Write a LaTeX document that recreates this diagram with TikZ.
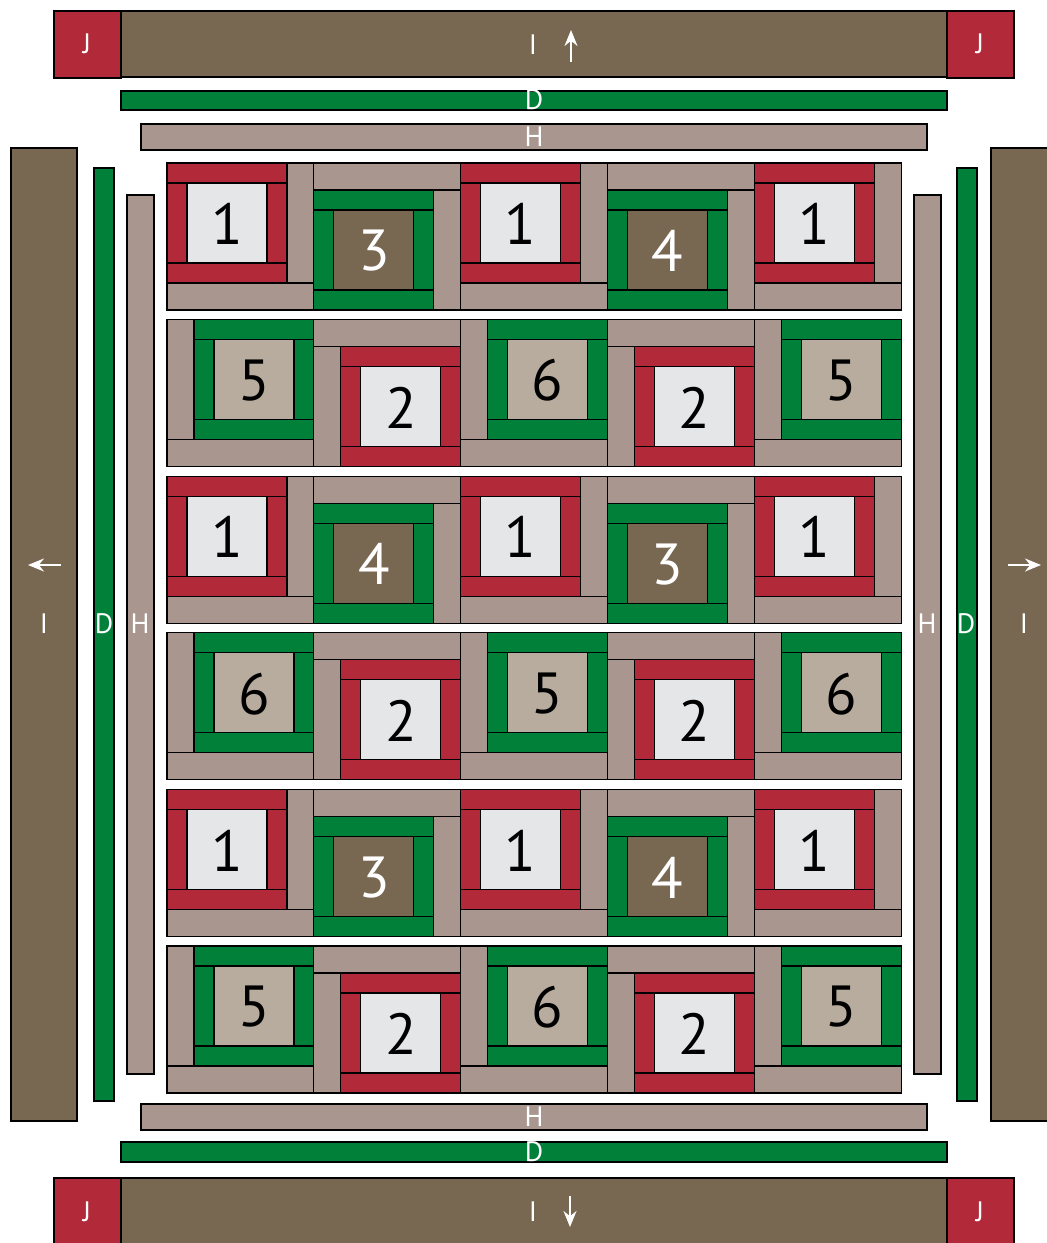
\documentclass[tikz,border=0pt]{standalone}
\usepackage{fontspec}
\setmainfont{PT Sans}
\usetikzlibrary{arrows.meta}
\definecolor{cRed}{RGB}{178,41,57}
\definecolor{cBrown}{RGB}{120,104,82}
\definecolor{cGreen}{RGB}{0,128,57}
\definecolor{cMauve}{RGB}{168,150,143}
\definecolor{cLight}{RGB}{229,230,232}
\definecolor{cTan}{RGB}{183,172,158}
\tikzset{
	patch/.style    ={draw=black, line width=0.7pt},
	strip/.style    ={patch, fill=cMauve},
	num/.style      ={font=\fontsize{33}{33}\selectfont, inner sep=0pt},
	lbl/.style      ={font=\fontsize{16}{16}\selectfont, text=white, inner sep=0pt},
	dirarrow/.style ={-{Stealth[length=3.2mm, width=2.6mm]}, white, line width=1.2pt},
}
% log cabin block: col, row, frame, centre, number colour, number, x offset, y offset
\newcommand{\cabin}[8]{%
	\begin{scope}[shift={({167+146.8*#1},{163+156.6*#2})}]
		\pgfmathsetmacro\cabinvx{#7>0 ? 0 : 120}
		\pgfmathsetmacro\cabinhy{#8>0 ? 0 : 120}
		\filldraw[strip] (\cabinvx,#8) rectangle ++(27,120);
		\filldraw[strip] (0,\cabinhy) rectangle ++(147,27);
		\begin{scope}[shift={(#7,#8)}]
			\filldraw[patch, fill=#3] (0,0) rectangle (120,20);
			\filldraw[patch, fill=#3] (0,100) rectangle (120,120);
			\filldraw[patch, fill=#3] (0,20) rectangle (20,100);
			\filldraw[patch, fill=#3] (100,20) rectangle (120,100);
			\filldraw[patch, fill=#4] (20,20) rectangle (100,100);
			\node[num, text=#5] (b#1#2) at (60,61) {#6};
		\end{scope}
	\end{scope}}

\begin{document}
\begin{tikzpicture}[x=0.02cm, y=-0.02cm]
	\clip (0,0) rectangle (1047,1243);
	% borders
	\filldraw[patch, fill=cBrown] (121,11) rectangle (947,77);
	\filldraw[patch, fill=cBrown] (121,1178) rectangle (947,1250);
	\filldraw[patch, fill=cBrown] (11,148) rectangle (77,1121);
	\filldraw[patch, fill=cBrown] (991,148) rectangle (1060,1121);
	\foreach \x/\y in {54/11, 947/11, 54/1178, 947/1178}
		\filldraw[patch, fill=cRed] (\x,\y) rectangle ++(67,67);
	\filldraw[patch, fill=cGreen] (121,91) rectangle (947,110);
	\filldraw[patch, fill=cGreen] (121,1142) rectangle (947,1162);
	\filldraw[patch, fill=cGreen] (94,168) rectangle (114,1101);
	\filldraw[patch, fill=cGreen] (957,168) rectangle (977,1101);
	\filldraw[strip] (141,124) rectangle (927,150);
	\filldraw[strip] (141,1104) rectangle (927,1130);
	\filldraw[strip] (127,195) rectangle (154,1074);
	\filldraw[strip] (914,195) rectangle (941,1074);
	% blocks
	\foreach \r/\p/\q in {0/3/4, 2/4/3, 4/3/4}{
		\foreach \c in {0,2,4} {\cabin{\c}{\r}{cRed}{cLight}{black}{1}{0}{0}}
		\cabin{1}{\r}{cGreen}{cBrown}{white}{\p}{0}{27}
		\cabin{3}{\r}{cGreen}{cBrown}{white}{\q}{0}{27}
	}
	\foreach \r/\p/\q in {1/5/6, 3/6/5, 5/5/6}{
		\foreach \c/\n in {0/\p, 2/\q, 4/\p} {\cabin{\c}{\r}{cGreen}{cTan}{black}{\n}{27}{0}}
		\cabin{1}{\r}{cRed}{cLight}{black}{2}{27}{27}
		\cabin{3}{\r}{cRed}{cLight}{black}{2}{27}{27}
	}
	% labels
	\node[lbl] (jtl) at (87,44) {J};
	\node[lbl] (jtr) at (980,44) {J};
	\node[lbl] (jbl) at (87,1212) {J};
	\node[lbl] (jbr) at (980,1212) {J};
	\node[lbl] (itop) at (533,45) {I};
	\node[lbl] (ibot) at (533,1212) {I};
	\node[lbl] (ileft) at (44,624) {I};
	\node[lbl] (iright) at (1024,624) {I};
	\node[lbl] (dtop) at (534,100) {D};
	\node[lbl] (dbot) at (534,1152) {D};
	\node[lbl] (dleft) at (104,624) {D};
	\node[lbl] (dright) at (966,624) {D};
	\node[lbl] (htop) at (534,137) {H};
	\node[lbl] (hbot) at (534,1117) {H};
	\node[lbl] (hleft) at (140,624) {H};
	\node[lbl] (hright) at (927,624) {H};
	\draw[dirarrow] (571,62) -- (571,30);
	\draw[dirarrow] (570,1196) -- (570,1227);
	\draw[dirarrow] (61,565) -- (28,565);
	\draw[dirarrow] (1008,565) -- (1041,565);
\end{tikzpicture}
\end{document}
